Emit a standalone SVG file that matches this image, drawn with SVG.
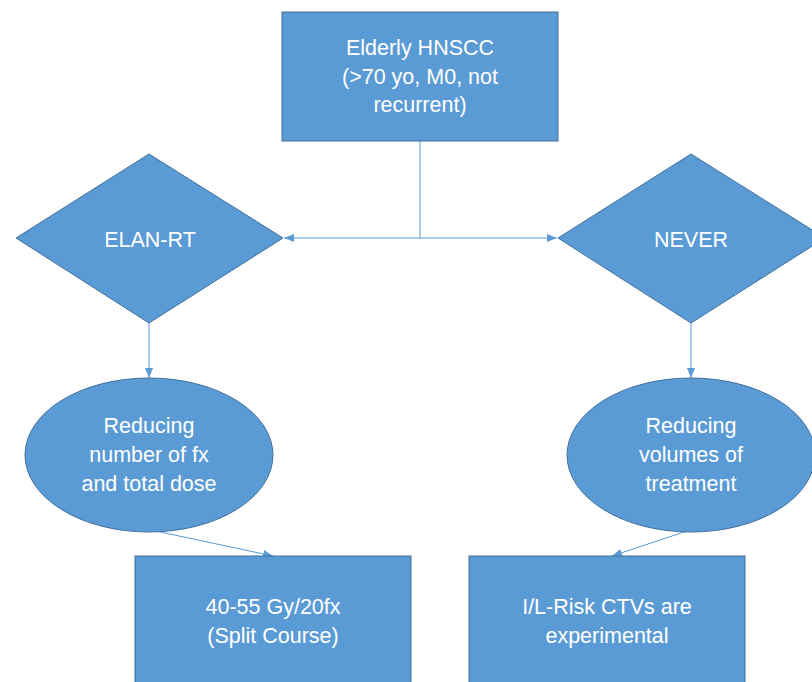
<svg xmlns="http://www.w3.org/2000/svg" width="812" height="682" viewBox="0 0 812 682">
<defs>
<style>
.shape{fill:#5B9BD5;stroke:#41719C;stroke-width:1}
.lbl{fill:#FFFFFF;font-family:"Liberation Sans",Arial,sans-serif;font-size:21.5px;text-anchor:middle}
.conn{fill:none;stroke:#5B9BD5;stroke-width:1}
</style>
<marker id="arr" viewBox="0 0 10 10" refX="10" refY="5" markerWidth="10" markerHeight="10" markerUnits="userSpaceOnUse" orient="auto">
<path d="M0,1 L10,5 L0,9 Z" fill="#5B9BD5"/>
</marker>
</defs>
<rect width="812" height="682" fill="#FFFFFF"/>
<g id="connectors">
<path class="conn" d="M420,141 V238"/>
<path class="conn" d="M420,238 H284" marker-end="url(#arr)"/>
<path class="conn" d="M420,238 H557" marker-end="url(#arr)"/>
<path class="conn" d="M149,323 V378" marker-end="url(#arr)"/>
<path class="conn" d="M691,323 V378" marker-end="url(#arr)"/>
<path class="conn" d="M151,530 L273,556" marker-end="url(#arr)"/>
<path class="conn" d="M690,530 L612,556" marker-end="url(#arr)"/>
</g>
<g id="node-top">
<rect class="shape" x="282" y="12" width="276" height="129"/>
<text class="lbl" x="420" y="55">Elderly HNSCC</text>
<text class="lbl" x="420" y="84">(&gt;70 yo, M0, not</text>
<text class="lbl" x="420" y="112">recurrent)</text>
</g>
<g id="node-elan">
<polygon class="shape" points="149,154 283,238 149,323 16,238"/>
<text class="lbl" x="150" y="247">ELAN-RT</text>
</g>
<g id="node-never">
<polygon class="shape" points="691,154 825,238 691,323 558,238"/>
<text class="lbl" x="691" y="247">NEVER</text>
</g>
<g id="node-reduce-fx">
<ellipse class="shape" cx="149" cy="455" rx="124" ry="77"/>
<text class="lbl" x="149" y="433">Reducing</text>
<text class="lbl" x="149" y="462">number of fx</text>
<text class="lbl" x="149" y="491">and total dose</text>
</g>
<g id="node-reduce-vol">
<ellipse class="shape" cx="691" cy="455" rx="124" ry="77"/>
<text class="lbl" x="691" y="433">Reducing</text>
<text class="lbl" x="691" y="462">volumes of</text>
<text class="lbl" x="691" y="491">treatment</text>
</g>
<g id="node-dose">
<rect class="shape" x="135" y="556" width="276" height="140"/>
<text class="lbl" x="273" y="614">40-55 Gy/20fx</text>
<text class="lbl" x="273" y="643">(Split Course)</text>
</g>
<g id="node-ctv">
<rect class="shape" x="469" y="556" width="276" height="140"/>
<text class="lbl" x="607" y="614">I/L-Risk CTVs are</text>
<text class="lbl" x="607" y="643">experimental</text>
</g>
</svg>
